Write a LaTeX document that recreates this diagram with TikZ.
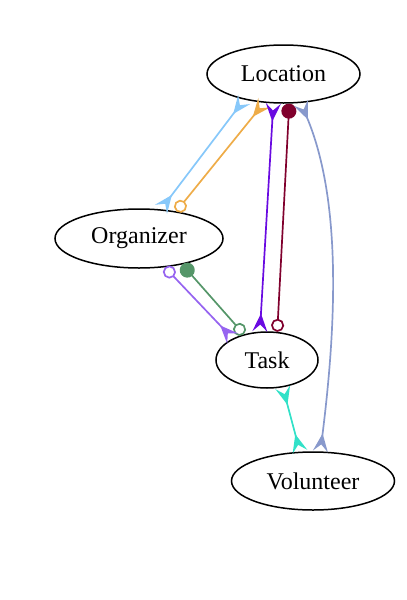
\documentclass[tikz,border=0pt]{standalone}
\usepackage{fontspec}
\setmainfont{Liberation Serif}
\usetikzlibrary{shapes.geometric,arrows.meta}
\definecolor{skyblue}{RGB}{135,200,250}
\definecolor{sandorange}{RGB}{238,172,72}
\definecolor{violet}{RGB}{105,10,225}
\definecolor{maroon}{RGB}{128,0,45}
\definecolor{slate}{RGB}{136,153,204}
\definecolor{sage}{RGB}{85,150,105}
\definecolor{lavender}{RGB}{150,100,240}
\definecolor{turquoise}{RGB}{50,225,200}

\begin{document}
\begin{tikzpicture}[x=1pt,y=-1pt,
  entity/.style={draw,ellipse,line width=1.5pt,inner sep=0pt,font=\fontsize{24}{28}\selectfont},
  rel/.style={line width=1.7pt},
  crowfoot/.tip={Stealth[reversed,length=18pt,width=15pt,inset=7pt]},
  ringtip/.tip={Circle[open,length=13pt,fill=white]},
  dottip/.tip={Circle[length=15pt]}]
\useasboundingbox (0,0) rectangle (407,600);
\node[entity,minimum width=153pt,minimum height=58pt] (loc) at (283.5,74) {Location};
\node[entity,minimum width=168pt,minimum height=59pt] (org) at (139,238.5) {Organizer};
\node[entity,minimum width=102pt,minimum height=56pt] (task) at (267,360) {Task};
\node[entity,minimum width=163pt,minimum height=58pt] (vol) at (313,481) {Volunteer};
\draw[rel,skyblue,crowfoot-crowfoot] (loc.213) -- (org.53.7);
\draw[rel,sandorange,ringtip-crowfoot] (org.36.5) -- (loc.236.6);
\draw[rel,violet,crowfoot-crowfoot] (loc.251.7) -- (task.104.2);
\draw[rel,maroon,dottip-ringtip] (loc.-79) -- (task.70);
\draw[rel,slate,crowfoot-crowfoot] (loc.-59.7) .. controls +(42,100) and +(15,-120) .. (vol.76.4);
\draw[rel,sage,dottip-ringtip] (org.-31.3) -- (task.132.6);
\draw[rel,lavender,ringtip-crowfoot] (org.-48.4) -- (task.148.4);
\draw[rel,turquoise,crowfoot-crowfoot] (task.-60.8) -- (vol.114.4);
\end{tikzpicture}
\end{document}
